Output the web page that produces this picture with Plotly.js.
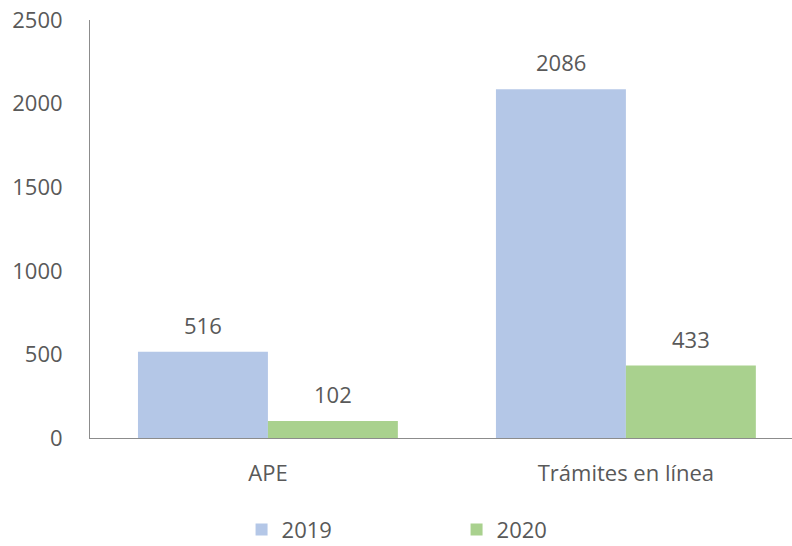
<!DOCTYPE html>
<html><head><meta charset="utf-8">
<script src="https://cdn.plot.ly/plotly-3.0.1.min.js"></script>
<style>html,body{margin:0;padding:0;background:#fff}#chart{width:792px;height:546px}</style>
</head><body><div id="chart"></div>
<script>
const categories = ["APE", "Trámites en línea"];
const seriesNames = ["2019", "2020"];
const values2019 = [516, 2086];
const values2020 = [102, 433];
const yTicks = [0, 500, 1000, 1500, 2000, 2500];

const colors = ["#B4C7E7", "#A9D18E"];
const fontFam = "'Open Sans', sans-serif";
const txtColor = "#595959";
const fs = 22;

const allSeries = [values2019, values2020];
const traces = allSeries.map((vals, i) => ({
  type: "bar", x: categories, y: vals, name: seriesNames[i],
  marker: {color: colors[i], line: {width: 0}}, hoverinfo: "none"
}));

const barW = 0.363;
const annotations = [];
allSeries.forEach((vals, i) => {
  vals.forEach((v, j) => {
    annotations.push({
      x: j + (i === 0 ? -barW/2 : barW/2), y: v, xref: "x", yref: "y",
      text: String(v), showarrow: false, yanchor: "middle", yshift: 27,
      font: {family: fontFam, size: fs, color: txtColor}
    });
  });
});

const layout = {
  width: 792, height: 546,
  margin: {l: 90, r: 0, t: 20, b: 108},
  paper_bgcolor: "#fff", plot_bgcolor: "#fff",
  font: {family: fontFam, size: fs, color: txtColor},
  barmode: "group", bargap: 0.274, bargroupgap: 0,
  xaxis: {
    type: "category", range: [-0.497, 1.464], showgrid: false, zeroline: false,
    showline: true, linecolor: "#8c8c8c", linewidth: 1, ticks: "",
    ticklabelstandoff: 16, tickfont: {family: fontFam, size: fs, color: txtColor}
  },
  yaxis: {
    range: [0, 2500], tickvals: yTicks, ticktext: yTicks.map(String),
    showgrid: false, zeroline: false, showline: true, linecolor: "#8c8c8c", linewidth: 1,
    ticks: "", ticklabelstandoff: 22, tickfont: {family: fontFam, size: fs, color: txtColor}
  },
  showlegend: true,
  legend: {
    orientation: "h", xref: "container", yref: "container",
    x: 0.305, xanchor: "left", y: 0.03, yanchor: "middle",
    entrywidth: 170, entrywidthmode: "pixels",
    font: {family: fontFam, size: fs, color: txtColor}
  },
  annotations: annotations
};

Plotly.newPlot("chart", traces, layout, {displayModeBar: false, staticPlot: true});
</script></body></html>
